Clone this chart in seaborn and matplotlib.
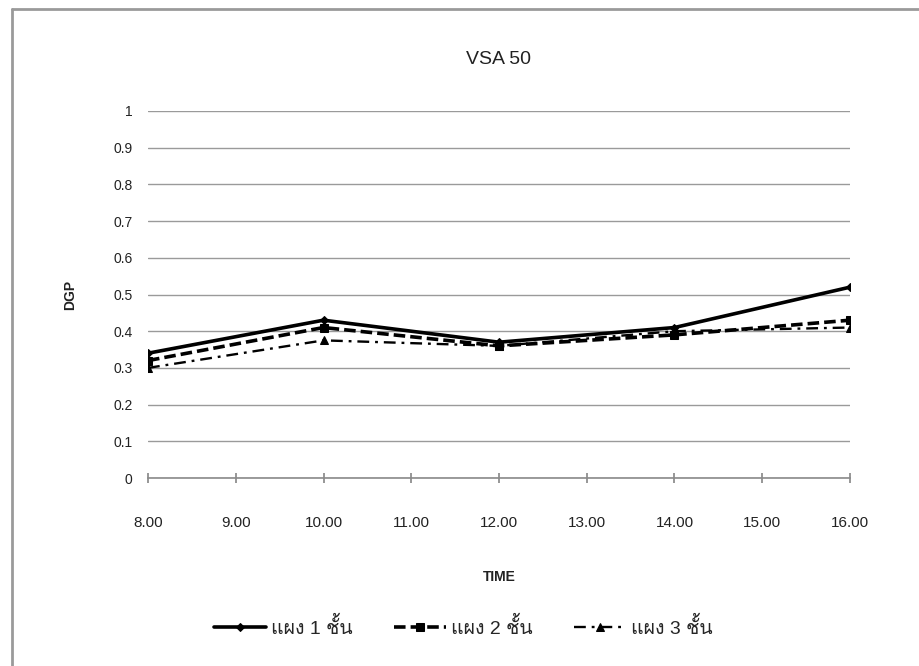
import matplotlib
matplotlib.use("Agg")
import matplotlib.pyplot as plt
import matplotlib.font_manager as fm
from matplotlib.ft2font import FT2Font
from matplotlib.lines import Line2D
import seaborn as sns
import pandas as pd

# ---- data ----
title = "VSA 50"
x_label = "TIME"
y_label = "DGP"
times = [8, 10, 12, 14, 16]
x_tick_values = [8, 9, 10, 11, 12, 13, 14, 15, 16]
x_tick_labels = ["8.00", "9.00", "10.00", "11.00", "12.00", "13.00", "14.00", "15.00", "16.00"]
y_tick_values = [0, 0.1, 0.2, 0.3, 0.4, 0.5, 0.6, 0.7, 0.8, 0.9, 1.0]
y_tick_labels = ["0", "0.1", "0.2", "0.3", "0.4", "0.5", "0.6", "0.7", "0.8", "0.9", "1"]
series_names = ["แผง 1 ชั้น", "แผง 2 ชั้น", "แผง 3 ชั้น"]
panel1 = [0.34, 0.43, 0.37, 0.41, 0.52]
panel2 = [0.32, 0.41, 0.36, 0.39, 0.43]
panel3 = [0.30, 0.375, 0.36, 0.40, 0.41]

sns.set_theme(style="white")

# find a font that has Thai glyphs
thai_family = None
for f in fm.fontManager.ttflist:
    try:
        ft = FT2Font(f.fname)
        cmap = ft.get_charmap()
        if ord("แ") in cmap and ord("ช") in cmap:
            thai_family = f.name
            break
    except Exception:
        pass

fams = ["Liberation Sans"] + ([thai_family] if thai_family else []) + ["DejaVu Sans"]
plt.rcParams["font.family"] = fams

df = pd.DataFrame({
    "time": times * 3,
    "dgp": panel1 + panel2 + panel3,
    "series": [series_names[0]] * 5 + [series_names[1]] * 5 + [series_names[2]] * 5,
})

fig = plt.figure(figsize=(9.2, 6.66), dpi=100)
fig.patch.set_facecolor("white")
ax = fig.add_axes([148 / 920, 1 - 478 / 666, (850 - 148) / 920, (478 - 111) / 666])

styles = [
    dict(linestyle="-", marker="D", markersize=4.5, linewidth=2.6),
    dict(linestyle=(0, (3.2, 1.4)), marker="s", markersize=6, linewidth=2.6),
    dict(linestyle=(0, (5, 2.5, 1.2, 2.5)), marker="^", markersize=6, linewidth=1.7),
]
for name, st in zip(series_names, styles):
    sub = df[df["series"] == name]
    sns.lineplot(data=sub, x="time", y="dgp", ax=ax, color="black",
                 markeredgecolor="black", label=name, **st)

ax.set_xlim(8, 16)
ax.set_ylim(0, 1)
ax.set_yticks(y_tick_values)
ax.set_yticklabels(y_tick_labels)
ax.set_xticks(x_tick_values)
ax.set_xticklabels(x_tick_labels)
ax.grid(axis="y", color="#9a9a9a", linewidth=1)
ax.set_axisbelow(True)
for s in ["top", "right", "left"]:
    ax.spines[s].set_visible(False)
ax.spines["bottom"].set_color("#8a8a8a")
ax.spines["bottom"].set_linewidth(1.2)
ax.tick_params(axis="x", bottom=True, direction="inout", length=7, color="#8a8a8a",
               labelsize=11, pad=24, labelcolor="#222222")
ax.tick_params(axis="y", left=False, labelsize=10, pad=5, labelcolor="#222222")

ax.set_xlabel(x_label, fontsize=10, fontweight="bold", labelpad=29, color="#222222")
ax.set_ylabel(y_label, fontsize=10, fontweight="bold", labelpad=26, color="#222222")
ax.set_title(title, fontsize=14, pad=34, color="#222222")

leg = ax.legend(loc="center", bbox_to_anchor=(0.449, -0.406), ncol=3, frameon=False,
                fontsize=14, handlelength=2.7, columnspacing=2.1, handletextpad=0.25)

fig.add_artist(Line2D([12 / 920, 1], [1 - 9 / 666, 1 - 9 / 666], color="#9a9a9a", linewidth=2))
fig.add_artist(Line2D([12 / 920, 12 / 920], [0, 1 - 9 / 666], color="#9a9a9a", linewidth=2))

fig.savefig("out.png", dpi=100, facecolor="white")
